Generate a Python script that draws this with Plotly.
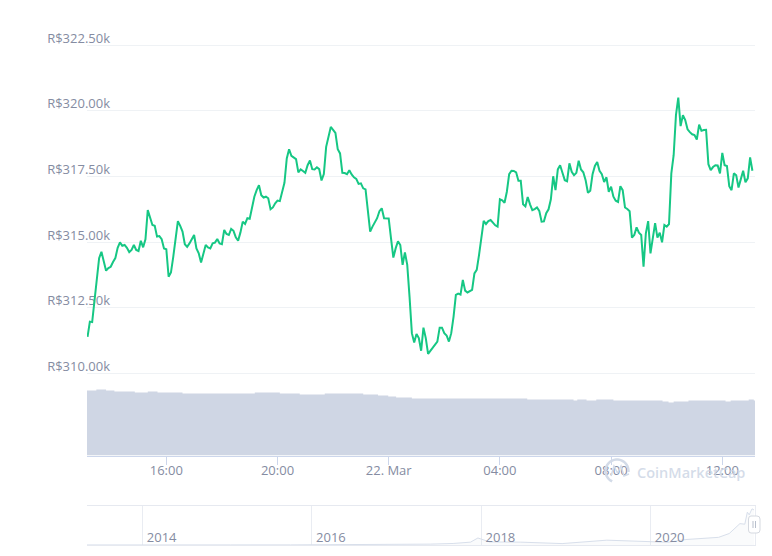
import datetime as dt
import math
import plotly.graph_objects as go

W, H = 772, 556
START = dt.datetime(2021, 3, 21, 13, 10)

prices_k = [
311.39,311.97,311.95,312.80,313.56,314.39,314.63,314.20,313.91,314.01,314.06,314.24,314.39,314.78,314.99,314.86,314.89,314.78,314.62,314.70,
314.89,314.70,314.66,315.05,314.80,315.11,316.22,315.94,315.65,315.62,315.21,315.23,315.11,314.76,314.73,313.68,313.84,314.44,315.14,315.80,
315.62,315.40,314.92,314.82,314.95,315.14,315.27,314.76,314.57,314.22,314.57,314.89,314.80,314.76,314.95,314.98,315.12,314.95,314.92,315.46,
315.31,315.27,315.50,315.43,315.18,315.05,315.37,315.78,315.69,315.91,315.89,316.35,316.73,316.98,317.17,316.79,316.70,316.73,316.67,316.25,
316.32,316.48,316.58,316.56,316.86,317.26,318.19,318.54,318.29,318.22,318.16,317.66,317.77,317.71,317.64,317.93,318.11,317.78,317.77,317.85,
317.78,317.35,317.59,318.63,319.04,319.39,319.28,319.16,318.54,318.38,317.64,317.63,317.59,317.74,317.58,317.47,317.41,317.22,317.24,317.05,
317.01,316.10,315.40,315.59,315.76,315.91,316.18,316.29,315.91,315.90,315.90,315.14,314.41,314.76,315.03,314.89,314.13,314.61,314.13,312.91,
311.53,311.17,311.50,311.34,310.86,311.74,311.34,310.74,310.86,311.00,311.08,311.21,311.74,311.74,311.53,311.44,311.21,311.53,312.16,312.99,
313.04,313.00,313.56,313.15,313.08,313.14,313.18,313.81,313.94,314.51,315.27,315.81,315.69,315.80,315.84,315.74,315.64,315.59,316.63,316.59,
316.50,316.92,317.59,317.72,317.71,317.66,317.34,317.34,316.44,316.36,316.72,316.44,316.22,316.26,316.32,316.19,315.78,315.79,316.10,316.25,
316.63,317.51,316.98,317.77,317.93,317.64,317.36,317.32,318.00,317.68,317.55,317.64,318.10,317.77,317.66,317.36,316.88,316.96,317.59,317.90,
318.05,317.72,317.59,317.29,317.47,316.92,317.11,316.73,316.58,316.53,317.13,316.98,316.32,316.26,316.18,315.17,315.27,315.56,315.36,315.27,
314.06,315.33,315.80,314.57,315.21,315.72,315.17,315.36,314.99,315.65,315.59,315.69,317.62,318.31,319.84,320.51,319.42,319.84,319.65,319.30,
319.19,319.11,319.08,318.91,319.48,319.24,319.27,319.28,317.97,317.74,317.86,317.93,317.92,317.62,318.40,317.93,317.90,317.13,316.98,317.62,
317.55,317.08,317.40,317.72,317.28,317.43,318.23,317.72,
]
volume_minutes = [-2,19,40,58,102,130,151,205,361,415,458,512,595,627,649,666,700,949,1049,1057,1077,1098,1135,1241,1254,1265,1297,1377,1388,1427,1438,1442]
volume_bn = [6.5,6.6,6.5,6.4,6.3,6.4,6.3,6.2,6.3,6.2,6.1,6.2,6.1,6.0,5.9,5.8,5.7,5.6,5.5,5.6,5.5,5.6,5.5,5.4,5.3,5.4,5.5,5.4,5.5,5.6,5.5,5.5]

y_ticks = [310, 312.5, 315, 317.5, 320, 322.5]
y_labels = ["R$310.00k", "R$312.50k", "R$315.00k", "R$317.50k", "R$320.00k", "R$322.50k"]
x_ticks = ["2021-03-21 16:00", "2021-03-21 20:00", "2021-03-22 00:00", "2021-03-22 04:00", "2021-03-22 08:00", "2021-03-22 12:00"]
x_labels = ["16:00", "20:00", "22. Mar", "04:00", "08:00", "12:00"]

nav_dates = ["2013-05-06","2013-12-01","2014-06-01","2015-01-15","2015-10-01","2016-06-15","2016-12-20","2017-05-25","2017-09-01","2017-11-15","2017-12-17","2018-01-15","2018-02-06","2018-06-20","2018-12-15","2019-06-26","2019-12-15","2020-03-15","2020-06-01","2020-08-15","2020-10-20","2020-12-05","2020-12-30","2021-01-20","2021-02-10","2021-02-21","2021-03-01","2021-03-13","2021-03-22"]
nav_prices_k = [0.4,2.5,1.5,0.8,1.0,2.5,3,8,14,26,64,40,28,26,13,44,30,25,50,62,70,105,150,195,190,300,275,330,320]
nav_years = ["2014-01-01", "2016-01-01", "2018-01-01", "2020-01-01"]
nav_year_labels = ["2014", "2016", "2018", "2020"]

times = [START + dt.timedelta(minutes=5 * i) for i in range(len(prices_k))]
vol_times = [START + dt.timedelta(minutes=m) for m in volume_minutes]

FONT = "Open Sans"
LABEL = "#858ca2"
GRID = "#eff2f5"
AXIS = "#ccd6eb"
GREEN = "#16c784"
AREA = "#cfd6e4"
MARK = "#d3dbe8"

fx = lambda p: p / W
fy = lambda p: 1 - p / H
TOP, BASE = 40.0, 455.5
PX_PER_K = (373.3 - 45.3) / 12.5
bottom_k = 310 - (BASE - 373.3) / PX_PER_K
top_k = 322.5 + (45.3 - TOP) / PX_PER_K

fig = go.Figure()
fig.add_trace(go.Scatter(x=vol_times, y=volume_bn, mode="lines", line=dict(color=AREA, width=0, shape="hv"),
                         fill="tozeroy", fillcolor=AREA, xaxis="x", yaxis="y", hoverinfo="skip"))
fig.add_trace(go.Scatter(x=times, y=prices_k, mode="lines", line=dict(color=GREEN, width=2),
                         xaxis="x", yaxis="y2", hoverinfo="skip"))
fig.add_trace(go.Scatter(x=nav_dates, y=nav_prices_k, mode="lines", line=dict(color="#d8dfeb", width=1),
                         fill="tozeroy", fillcolor="rgba(207,214,228,0.10)", xaxis="x2", yaxis="y3", hoverinfo="skip"))


def pts(points):
    return "M " + " L ".join(f"{fx(a):.5f} {fy(b):.5f}" for a, b in points)


ring = [(617 + 11.5 * math.cos(math.radians(a)), 471 + 11.5 * math.sin(math.radians(a))) for a in range(115, 375, 10)]
logo_m = [(611, 476), (614, 466), (617.5, 473), (621, 466), (624, 476), (629, 474)]
handle = "M {} {} L {} {} Q {} {} {} {} L {} {} Q {} {} {} {} L {} {} Q {} {} {} {} L {} {} Q {} {} {} {} Z".format(
    fx(751), fy(516), fx(757), fy(516), fx(760), fy(516), fx(760), fy(519), fx(760), fy(530), fx(760), fy(533),
    fx(757), fy(533), fx(751), fy(533), fx(748.5), fy(533), fx(748.5), fy(530), fx(748.5), fy(519), fx(748.5), fy(516),
    fx(751), fy(516))

shapes = [
    dict(type="path", xref="paper", yref="paper", path=pts(ring), line=dict(color=MARK, width=2.5)),
    dict(type="path", xref="paper", yref="paper", path=pts(logo_m), line=dict(color=MARK, width=1.5)),
    dict(type="path", xref="paper", yref="paper", path=handle, fillcolor="#ffffff", line=dict(color="#d5d9e0", width=1)),
    dict(type="line", xref="paper", yref="paper", x0=fx(753), x1=fx(753), y0=fy(521), y1=fy(528), line=dict(color="#b8bfcc", width=1)),
    dict(type="line", xref="paper", yref="paper", x0=fx(755.5), x1=fx(755.5), y0=fy(521), y1=fy(528), line=dict(color="#b8bfcc", width=1)),
]

fig.update_layout(
    width=W, height=H, margin=dict(l=0, r=0, t=0, b=0, autoexpand=False), autosize=False,
    paper_bgcolor="#ffffff", plot_bgcolor="#ffffff", showlegend=False, hovermode=False,
    font=dict(family=FONT, size=13, color=LABEL),
    shapes=shapes,
    annotations=[dict(text="CoinMarketCap", xref="paper", yref="paper", x=fx(690.5), y=fy(472.5),
                      xanchor="center", yanchor="middle", showarrow=False,
                      font=dict(family=FONT, size=14.5, color="rgba(205,214,229,0.85)", weight=600))],
    xaxis=dict(domain=[fx(87), fx(755)], anchor="y",
               range=["2021-03-21 13:08:50", "2021-03-22 13:10:35"], type="date",
               tickmode="array", tickvals=x_ticks, ticktext=x_labels, ticks="outside", ticklen=8,
               ticklabelstandoff=-5,
               tickcolor=AXIS, tickwidth=1, showline=True, linecolor=AXIS, linewidth=1,
               showgrid=False, zeroline=False, tickfont=dict(color=LABEL, size=13)),
    yaxis=dict(domain=[fy(BASE), fy(TOP)], range=[0, (BASE - TOP) / 10], anchor="x",
               showgrid=False, zeroline=False, showticklabels=False, ticks=""),
    yaxis2=dict(domain=[fy(BASE), fy(TOP)], overlaying="y", anchor="x", range=[bottom_k, top_k],
                tickmode="array", tickvals=y_ticks, ticktext=y_labels, ticks="",
                showgrid=True, gridcolor=GRID, gridwidth=1, zeroline=False, showline=False,
                ticklabelstandoff=-24, ticklabelshift=-7, layer="below traces",
                tickfont=dict(color=LABEL, size=13)),
    xaxis2=dict(domain=[fx(87), fx(755)], anchor="y3", type="date",
                range=["2013-05-06", "2021-03-26"],
                tickmode="array", tickvals=nav_years, ticktext=nav_year_labels,
                ticks="", ticklabelposition="inside", ticklabelshift=19, ticklabelstandoff=0,
                showgrid=True, gridcolor="#e9ecf2", gridwidth=1, zeroline=False,
                showline=True, mirror=True, linecolor="#e6e9f0", linewidth=1,
                tickfont=dict(color=LABEL, size=13)),
    yaxis3=dict(domain=[fy(545), fy(506)], range=[0, 356], anchor="x2", side="right",
                showgrid=False, zeroline=False, showticklabels=False, ticks="",
                showline=True, linecolor="#e9ecf2", linewidth=1),
)

fig.write_html("out.html", config={"displayModeBar": False}, post_script="document.body.style.margin='0';")
